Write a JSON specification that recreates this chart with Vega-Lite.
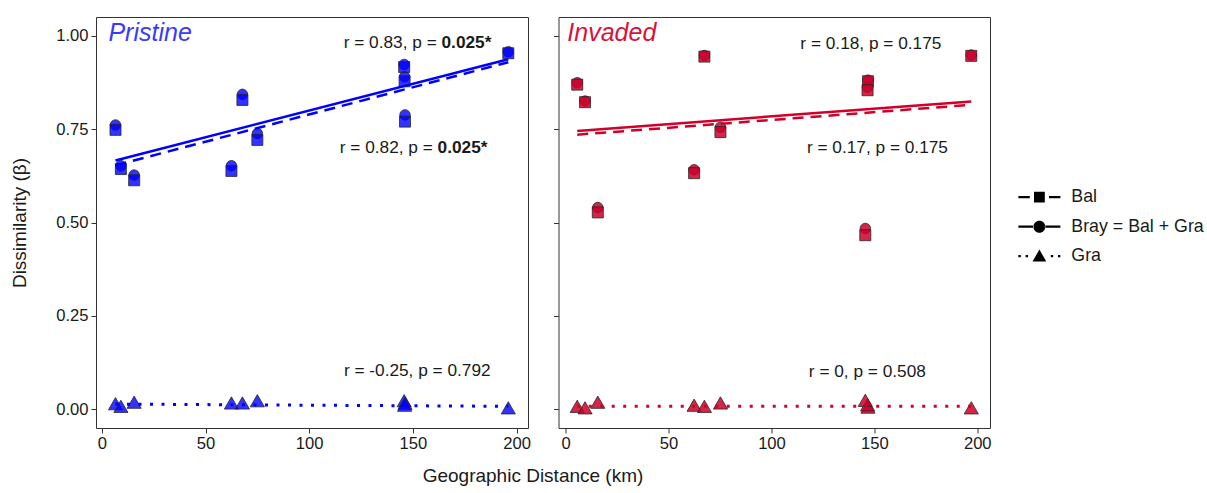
{
  "$schema": "https://vega.github.io/schema/vega-lite/v6.json",
  "background": "white",
  "padding": {"left": 10, "top": 16, "right": 2, "bottom": 2},
  "bounds": "flush",
  "spacing": 30.5,
  "config": {
    "font": "Liberation Sans",
    "view": {"stroke": "#333333", "strokeWidth": 1},
    "axis": {"domain": false, "grid": false, "tickColor": "#333333", "tickSize": 5, "tickWidth": 1, "labelFontSize": 16.6, "labelColor": "#1a1a1a", "labelFont": "Liberation Sans", "titleFont": "Liberation Sans", "titleFontSize": 19, "titleFontWeight": "normal", "titleColor": "#1a1a1a"},
    "legend": {"labelFont": "Liberation Sans"}
  },
  "datasets": {
    "pts": [
      {"site": "Pristine", "index": "Bray = Bal + Gra", "dist": 6.6, "value": 0.761},
      {"site": "Pristine", "index": "Bray = Bal + Gra", "dist": 9.2, "value": 0.652},
      {"site": "Pristine", "index": "Bray = Bal + Gra", "dist": 15.6, "value": 0.627},
      {"site": "Pristine", "index": "Bray = Bal + Gra", "dist": 62.5, "value": 0.652},
      {"site": "Pristine", "index": "Bray = Bal + Gra", "dist": 67.8, "value": 0.843},
      {"site": "Pristine", "index": "Bray = Bal + Gra", "dist": 75.0, "value": 0.738},
      {"site": "Pristine", "index": "Bray = Bal + Gra", "dist": 145.8, "value": 0.923},
      {"site": "Pristine", "index": "Bray = Bal + Gra", "dist": 146.0, "value": 0.890},
      {"site": "Pristine", "index": "Bray = Bal + Gra", "dist": 146.2, "value": 0.788},
      {"site": "Pristine", "index": "Bray = Bal + Gra", "dist": 196.0, "value": 0.957},
      {"site": "Pristine", "index": "Bal", "dist": 6.6, "value": 0.748},
      {"site": "Pristine", "index": "Bal", "dist": 9.2, "value": 0.643},
      {"site": "Pristine", "index": "Bal", "dist": 15.6, "value": 0.613},
      {"site": "Pristine", "index": "Bal", "dist": 62.5, "value": 0.638},
      {"site": "Pristine", "index": "Bal", "dist": 67.8, "value": 0.828},
      {"site": "Pristine", "index": "Bal", "dist": 75.0, "value": 0.721},
      {"site": "Pristine", "index": "Bal", "dist": 145.8, "value": 0.916},
      {"site": "Pristine", "index": "Bal", "dist": 146.0, "value": 0.878},
      {"site": "Pristine", "index": "Bal", "dist": 146.2, "value": 0.770},
      {"site": "Pristine", "index": "Bal", "dist": 196.0, "value": 0.953},
      {"site": "Pristine", "index": "Gra", "dist": 6.6, "value": 0.015},
      {"site": "Pristine", "index": "Gra", "dist": 9.2, "value": 0.008},
      {"site": "Pristine", "index": "Gra", "dist": 15.6, "value": 0.019},
      {"site": "Pristine", "index": "Gra", "dist": 62.5, "value": 0.017},
      {"site": "Pristine", "index": "Gra", "dist": 67.8, "value": 0.017},
      {"site": "Pristine", "index": "Gra", "dist": 75.0, "value": 0.023},
      {"site": "Pristine", "index": "Gra", "dist": 145.8, "value": 0.023},
      {"site": "Pristine", "index": "Gra", "dist": 146.0, "value": 0.011},
      {"site": "Pristine", "index": "Gra", "dist": 146.2, "value": 0.016},
      {"site": "Pristine", "index": "Gra", "dist": 196.0, "value": 0.004},
      {"site": "Invaded", "index": "Bray = Bal + Gra", "dist": 5.6, "value": 0.874},
      {"site": "Invaded", "index": "Bray = Bal + Gra", "dist": 9.4, "value": 0.825},
      {"site": "Invaded", "index": "Bray = Bal + Gra", "dist": 15.6, "value": 0.540},
      {"site": "Invaded", "index": "Bray = Bal + Gra", "dist": 62.4, "value": 0.641},
      {"site": "Invaded", "index": "Bray = Bal + Gra", "dist": 67.4, "value": 0.947},
      {"site": "Invaded", "index": "Bray = Bal + Gra", "dist": 75.2, "value": 0.755},
      {"site": "Invaded", "index": "Bray = Bal + Gra", "dist": 146.9, "value": 0.881},
      {"site": "Invaded", "index": "Bray = Bal + Gra", "dist": 146.7, "value": 0.862},
      {"site": "Invaded", "index": "Bray = Bal + Gra", "dist": 145.6, "value": 0.484},
      {"site": "Invaded", "index": "Bray = Bal + Gra", "dist": 197.1, "value": 0.948},
      {"site": "Invaded", "index": "Bal", "dist": 5.6, "value": 0.869},
      {"site": "Invaded", "index": "Bal", "dist": 9.4, "value": 0.822},
      {"site": "Invaded", "index": "Bal", "dist": 15.6, "value": 0.527},
      {"site": "Invaded", "index": "Bal", "dist": 62.4, "value": 0.632},
      {"site": "Invaded", "index": "Bal", "dist": 67.4, "value": 0.944},
      {"site": "Invaded", "index": "Bal", "dist": 75.2, "value": 0.742},
      {"site": "Invaded", "index": "Bal", "dist": 146.9, "value": 0.878},
      {"site": "Invaded", "index": "Bal", "dist": 146.7, "value": 0.854},
      {"site": "Invaded", "index": "Bal", "dist": 145.6, "value": 0.466},
      {"site": "Invaded", "index": "Bal", "dist": 197.1, "value": 0.946},
      {"site": "Invaded", "index": "Gra", "dist": 5.6, "value": 0.008},
      {"site": "Invaded", "index": "Gra", "dist": 9.4, "value": 0.004},
      {"site": "Invaded", "index": "Gra", "dist": 15.6, "value": 0.019},
      {"site": "Invaded", "index": "Gra", "dist": 62.4, "value": 0.011},
      {"site": "Invaded", "index": "Gra", "dist": 67.4, "value": 0.008},
      {"site": "Invaded", "index": "Gra", "dist": 75.2, "value": 0.017},
      {"site": "Invaded", "index": "Gra", "dist": 146.9, "value": 0.006},
      {"site": "Invaded", "index": "Gra", "dist": 146.7, "value": 0.012},
      {"site": "Invaded", "index": "Gra", "dist": 145.6, "value": 0.024},
      {"site": "Invaded", "index": "Gra", "dist": 197.1, "value": 0.004}
    ],
    "fit": [
      {"site": "Pristine", "index": "Bray = Bal + Gra", "dist": 6.6, "value": 0.666},
      {"site": "Pristine", "index": "Bray = Bal + Gra", "dist": 196.0, "value": 0.937},
      {"site": "Pristine", "index": "Bal", "dist": 6.6, "value": 0.653},
      {"site": "Pristine", "index": "Bal", "dist": 196.0, "value": 0.929},
      {"site": "Pristine", "index": "Gra", "dist": 6.6, "value": 0.014},
      {"site": "Pristine", "index": "Gra", "dist": 196.0, "value": 0.008},
      {"site": "Invaded", "index": "Bray = Bal + Gra", "dist": 5.6, "value": 0.745},
      {"site": "Invaded", "index": "Bray = Bal + Gra", "dist": 197.1, "value": 0.824},
      {"site": "Invaded", "index": "Bal", "dist": 5.6, "value": 0.735},
      {"site": "Invaded", "index": "Bal", "dist": 197.1, "value": 0.815},
      {"site": "Invaded", "index": "Gra", "dist": 5.6, "value": 0.008},
      {"site": "Invaded", "index": "Gra", "dist": 197.1, "value": 0.008}
    ],
    "ann": [
      {"site": "Pristine", "part": "pre", "dist": 163.8, "value": 0.981, "label": "r = 0.83, p ="},
      {"site": "Pristine", "part": "bold", "dist": 163.8, "value": 0.981, "label": "0.025*"},
      {"site": "Pristine", "part": "pre", "dist": 161.9, "value": 0.700, "label": "r = 0.82, p ="},
      {"site": "Pristine", "part": "bold", "dist": 161.9, "value": 0.700, "label": "0.025*"},
      {"site": "Pristine", "part": "mid", "dist": 152.1, "value": 0.102, "label": "r = -0.25, p = 0.792"},
      {"site": "Invaded", "part": "mid", "dist": 148.3, "value": 0.977, "label": "r = 0.18, p = 0.175"},
      {"site": "Invaded", "part": "mid", "dist": 151.5, "value": 0.700, "label": "r = 0.17, p = 0.175"},
      {"site": "Invaded", "part": "mid", "dist": 146.6, "value": 0.101, "label": "r = 0, p = 0.508"},
      {"site": "Pristine", "part": "title", "dist": 3.2, "value": 0.986, "label": "Pristine"},
      {"site": "Invaded", "part": "title", "dist": 0.8, "value": 0.986, "label": "Invaded"}
    ]
  },
  "resolve": {"scale": {"x": "independent", "y": "independent"}},
  "hconcat": [
    {
      "width": 432,
      "height": 411,
      "encoding": {
        "x": {"field": "dist", "type": "quantitative", "scale": {"domain": [-2.8, 205.5], "nice": false, "zero": false},
              "axis": {"values": [0, 50, 100, 150, 200], "labelPadding": 2, "title": "Geographic Distance (km)", "titleX": 436.5, "titleY": 53, "titleAlign": "center", "titleBaseline": "alphabetic"}},
        "y": {"field": "value", "type": "quantitative", "scale": {"domain": [-0.05, 1.05], "nice": false, "zero": false},
              "axis": {"values": [0, 0.25, 0.5, 0.75, 1], "format": ".2f", "labelPadding": 3, "title": "Dissimilarity (β)", "titleAngle": -90, "titleX": -70.5, "titleY": 205.5, "titleAlign": "center", "titleBaseline": "alphabetic"}}
      },
      "layer": [
        {"data": {"name": "pts"}, "transform": [{"filter": "datum.site === 'Pristine' && datum.index === 'Bray = Bal + Gra'"}],
         "mark": {"type": "point", "shape": "circle", "filled": true, "size": 110, "fill": "#0000ff", "fillOpacity": 0.8, "stroke": "#262626", "strokeWidth": 0.8, "strokeOpacity": 1}},
        {"data": {"name": "pts"}, "transform": [{"filter": "datum.site === 'Pristine' && datum.index === 'Bal'"}],
         "mark": {"type": "point", "shape": "square", "filled": true, "size": 121, "fill": "#0000ff", "fillOpacity": 0.8, "stroke": "#262626", "strokeWidth": 0.8, "strokeOpacity": 1}},
        {"data": {"name": "pts"}, "transform": [{"filter": "datum.site === 'Pristine' && datum.index === 'Gra'"}],
         "mark": {"type": "point", "shape": "triangle-up", "filled": true, "size": 200, "fill": "#0000ff", "fillOpacity": 0.8, "stroke": "#262626", "strokeWidth": 0.8, "strokeOpacity": 1}},
        {"data": {"name": "fit"}, "transform": [{"filter": "datum.site === 'Pristine' && datum.index === 'Bal'"}],
         "mark": {"type": "line", "color": "#0000ff", "strokeWidth": 2.5, "strokeDash": [11, 7]}},
        {"data": {"name": "fit"}, "transform": [{"filter": "datum.site === 'Pristine' && datum.index === 'Bray = Bal + Gra'"}],
         "mark": {"type": "line", "color": "#0000ff", "strokeWidth": 2.5}},
        {"data": {"name": "fit"}, "transform": [{"filter": "datum.site === 'Pristine' && datum.index === 'Gra'"}],
         "mark": {"type": "line", "color": "#0000ff", "strokeWidth": 3, "strokeDash": [3, 8.5]}},
        {"data": {"name": "ann"}, "transform": [{"filter": "datum.site === 'Pristine' && datum.part === 'pre'"}],
         "mark": {"type": "text", "align": "right", "baseline": "middle", "fontSize": 17.25, "color": "#1a1a1a", "dx": -4.8},
         "encoding": {"text": {"field": "label"}}},
        {"data": {"name": "ann"}, "transform": [{"filter": "datum.site === 'Pristine' && datum.part === 'bold'"}],
         "mark": {"type": "text", "align": "left", "baseline": "middle", "fontSize": 17.25, "fontWeight": "bold", "color": "#1a1a1a"},
         "encoding": {"text": {"field": "label"}}},
        {"data": {"name": "ann"}, "transform": [{"filter": "datum.site === 'Pristine' && datum.part === 'mid'"}],
         "mark": {"type": "text", "align": "center", "baseline": "middle", "fontSize": 17.25, "color": "#1a1a1a"},
         "encoding": {"text": {"field": "label"}}},
        {"data": {"name": "ann"}, "transform": [{"filter": "datum.site === 'Pristine' && datum.part === 'title'"}],
         "mark": {"type": "text", "align": "left", "baseline": "alphabetic", "fontSize": 25, "fontStyle": "italic", "color": "#3a3aff"},
         "encoding": {"text": {"field": "label"}}}
      ]
    },
    {
      "width": 431.5,
      "height": 411,
      "encoding": {
        "x": {"field": "dist", "type": "quantitative", "scale": {"domain": [-3.5, 206.2], "nice": false, "zero": false},
              "axis": {"values": [0, 50, 100, 150, 200], "labelPadding": 2, "title": null}},
        "y": {"field": "value", "type": "quantitative", "scale": {"domain": [-0.05, 1.05], "nice": false, "zero": false},
              "axis": {"values": [0, 0.25, 0.5, 0.75, 1], "labels": false, "title": null}}
      },
      "layer": [
        {"data": {"name": "pts"}, "transform": [{"filter": "datum.site === 'Invaded' && datum.index === 'Bray = Bal + Gra'"}],
         "mark": {"type": "point", "shape": "circle", "filled": true, "size": 110, "fill": "#cc0029", "fillOpacity": 0.85, "stroke": "#262626", "strokeWidth": 0.8, "strokeOpacity": 1}},
        {"data": {"name": "pts"}, "transform": [{"filter": "datum.site === 'Invaded' && datum.index === 'Bal'"}],
         "mark": {"type": "point", "shape": "square", "filled": true, "size": 121, "fill": "#cc0029", "fillOpacity": 0.85, "stroke": "#262626", "strokeWidth": 0.8, "strokeOpacity": 1}},
        {"data": {"name": "pts"}, "transform": [{"filter": "datum.site === 'Invaded' && datum.index === 'Gra'"}],
         "mark": {"type": "point", "shape": "triangle-up", "filled": true, "size": 200, "fill": "#cc0029", "fillOpacity": 0.85, "stroke": "#262626", "strokeWidth": 0.8, "strokeOpacity": 1}},
        {"data": {"name": "fit"}, "transform": [{"filter": "datum.site === 'Invaded' && datum.index === 'Bal'"}],
         "mark": {"type": "line", "color": "#d0002a", "strokeWidth": 2.5, "strokeDash": [11, 7]}},
        {"data": {"name": "fit"}, "transform": [{"filter": "datum.site === 'Invaded' && datum.index === 'Bray = Bal + Gra'"}],
         "mark": {"type": "line", "color": "#d0002a", "strokeWidth": 2.5}},
        {"data": {"name": "fit"}, "transform": [{"filter": "datum.site === 'Invaded' && datum.index === 'Gra'"}],
         "mark": {"type": "line", "color": "#d0002a", "strokeWidth": 3, "strokeDash": [3, 8.5]}},
        {"data": {"name": "ann"}, "transform": [{"filter": "datum.site === 'Invaded' && datum.part === 'mid'"}],
         "mark": {"type": "text", "align": "center", "baseline": "middle", "fontSize": 17.25, "color": "#1a1a1a"},
         "encoding": {"text": {"field": "label"}}},
        {"data": {"name": "ann"}, "transform": [{"filter": "datum.site === 'Invaded' && datum.part === 'title'"}],
         "mark": {"type": "text", "align": "left", "baseline": "alphabetic", "fontSize": 25, "fontStyle": "italic", "color": "#d6133a"},
         "encoding": {"text": {"field": "label"}}},
        {"data": {"name": "pts"}, "transform": [{"filter": "false"}],
         "mark": {"type": "point", "filled": true, "color": "black", "stroke": "black", "strokeWidth": 2, "opacity": 1, "size": 144},
         "encoding": {"shape": {"field": "index", "type": "nominal",
           "scale": {"domain": ["Bal", "Bray = Bal + Gra", "Gra"],
                     "range": ["M-3.5,-0.2H-1.6V0.2H-3.5ZM1.6,-0.2H3.5V0.2H1.6ZM-0.9,-0.9H0.9V0.9H-0.9Z",
                               "M-3.5,-0.2H-0.9V0.2H-3.5ZM0.9,-0.2H3.5V0.2H0.9ZM-1,0A1,1,0,1,0,1,0A1,1,0,1,0,-1,0Z",
                               "M-3.5,-0.2H-3.1V0.2H-3.5ZM-2.3,-0.2H-1.9V0.2H-2.3ZM1.9,-0.2H2.3V0.2H1.9ZM3.1,-0.2H3.5V0.2H3.1ZM0,-1.1L1.15,0.9H-1.15Z"]},
           "legend": {"title": null, "orient": "none", "legendX": 934.5, "legendY": 171.25, "symbolSize": 144, "symbolFillColor": "black", "symbolStrokeColor": "black", "symbolStrokeWidth": 2, "symbolOpacity": 1, "labelFontSize": 17.8, "labelColor": "#1a1a1a", "labelOffset": 23, "rowPadding": 8.5, "labelBaseline": "middle"}}}}
      ]
    }
  ]
}
